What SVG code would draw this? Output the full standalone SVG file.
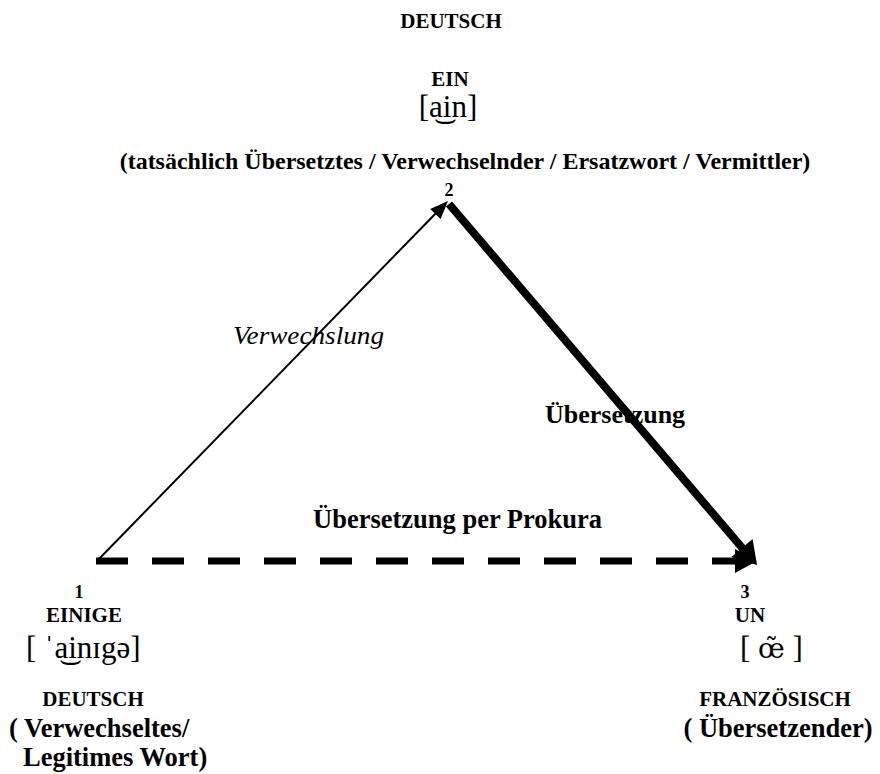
<svg xmlns="http://www.w3.org/2000/svg" width="880" height="774" viewBox="0 0 880 774">
<style>
text{font-family:"Liberation Serif","Times New Roman","DejaVu Serif",serif;fill:#000}
.b{font-weight:bold}
.lab{font-weight:bold;font-size:21px}
.num{font-weight:bold;font-size:18px}
.ipa{font-size:31px}
.big{font-weight:bold;font-size:26.5px}
.mid{text-anchor:middle}
.alt{font-family:"DejaVu Serif","Liberation Serif",serif;font-size:27px}
</style>
<rect width="880" height="774" fill="#fff"/>
<g id="connectors">
  <line x1="97" y1="561" x2="439" y2="210" stroke="#000" stroke-width="2"/>
  <polygon points="448,201 440.6,219.1 430.2,208.9" fill="#000"/>
  <line x1="449" y1="204" x2="744" y2="550" stroke="#000" stroke-width="8"/>
  <polygon points="757,565 752.6,538.9 731.4,557.1" fill="#000"/>
  <line x1="96" y1="561" x2="740" y2="561" stroke="#000" stroke-width="7" stroke-dasharray="32 24"/>
  <polygon points="757,561 735,549 735,573" fill="#000"/>
  <text x="233" y="344" font-style="italic" font-size="26" textLength="151" lengthAdjust="spacingAndGlyphs">Verwechslung</text>
  <text x="545" y="423" class="b" font-size="26">Übersetzung</text>
  <text x="313" y="528" class="big" font-size="27">Übersetzung per Prokura</text>
</g>
<g id="node-2">
  <text x="451" y="28" class="lab mid">DEUTSCH</text>
  <text x="450" y="86" class="lab mid">EIN</text>
  <text x="448" y="117" class="ipa mid">[a͜in]</text>
  <text x="465" y="169" class="b mid" font-size="24">(tatsächlich Übersetztes / Verwechselnder / Ersatzwort / Vermittler)</text>
  <text x="449" y="196" class="num mid">2</text>
</g>
<g id="node-1">
  <text x="79" y="598" class="num mid">1</text>
  <text x="84" y="622" class="lab mid">EINIGE</text>
  <text x="26" y="658" class="ipa">[ ˈa͜inɪgə]</text>
  <text x="93" y="706" class="lab mid">DEUTSCH</text>
  <text x="9" y="737" class="big">( Verwechseltes/</text>
  <text x="23" y="766" class="big" font-size="26">Legitimes Wort)</text>
</g>
<g id="node-3">
  <text x="745" y="598" class="num mid">3</text>
  <text x="750" y="622" class="lab mid">UN</text>
  <text x="740" y="658" class="ipa" xml:space="preserve">[ <tspan class="alt">œ̃</tspan> ]</text>
  <text x="775" y="706" class="lab mid">FRANZÖSISCH</text>
  <text x="778" y="737" class="big mid">( Übersetzender)</text>
</g>
</svg>
